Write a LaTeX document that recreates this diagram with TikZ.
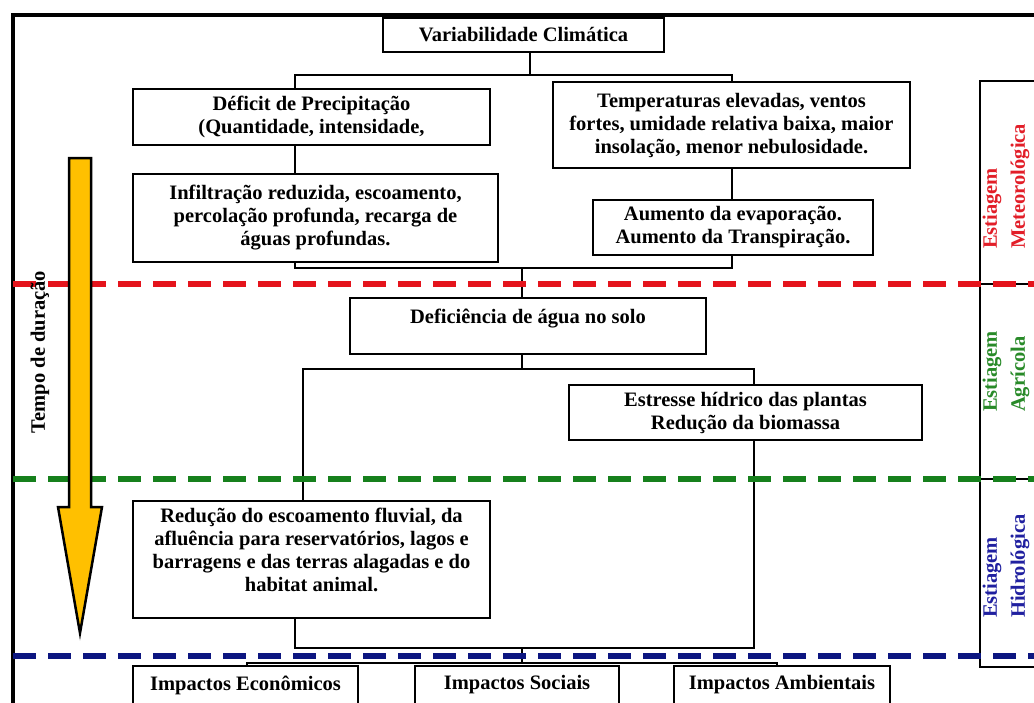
\documentclass[tikz,border=0pt]{standalone}
\usepackage{fontspec}
\setmainfont{Liberation Serif}
\definecolor{dred}{RGB}{228,20,28}
\definecolor{dgreen}{RGB}{22,128,28}
\definecolor{dblue}{RGB}{12,22,128}
\definecolor{tred}{RGB}{226,30,40}
\definecolor{tgreen}{RGB}{40,138,40}
\definecolor{tblue}{RGB}{32,32,160}
\definecolor{gold}{RGB}{255,192,0}
\begin{document}
\begin{tikzpicture}[x=1pt,y=-1pt,
  box/.style={draw, line width=2.8pt, inner sep=0pt, outer sep=0pt, align=center, fill=white,
    font=\bfseries\fontsize{20.5}{23}\selectfont},
  txt/.style={inner sep=0pt, align=center, font=\bfseries\fontsize{20.5}{23}\selectfont},
  conn/.style={line width=2.8pt},
  sep/.style={line width=6pt, dash pattern=on 23pt off 12pt},
  ptext/.style={rotate=90, anchor=west, align=left, inner sep=0pt,
    font=\bfseries\fontsize{20.5}{28}\selectfont}]
\useasboundingbox (0,0) rectangle (1034,702);
\clip (0,0) rectangle (1034,702);
\fill[white] (0,0) rectangle (1034,702);

% outer frame
\draw[line width=4pt] (13,15) rectangle (1100,760);

% side panel
\coordinate (pA) at (980,81);
\coordinate (pB) at (980,667);
\draw[conn] (1100,81) -- (pA) -- (pB) -- (1100,667);
\draw[conn] (980,284) -- (1100,284);
\draw[conn] (980,479) -- (1100,479);

% boxes
\node[box, minimum width=281, minimum height=34] (var) at (523.5,35) {Variabilidade Climática};
\node[box, minimum width=357, minimum height=56] (def) at (311.5,117) {Déficit de Precipitação\\(Quantidade, intensidade,};
\node[box, minimum width=365, minimum height=88] (inf) at (315.5,218) {Infiltração reduzida, escoamento,\\percolação profunda, recarga de\\águas profundas.};
\node[box, minimum width=357, minimum height=86] (temp) at (731.5,125) {Temperaturas elevadas, ventos\\fortes, umidade relativa baixa, maior\\insolação, menor nebulosidade.};
\node[box, minimum width=280, minimum height=55] (aum) at (733,227.5) {Aumento da evaporação.\\Aumento da Transpiração.};
\node[box, minimum width=356, minimum height=56] (defi) at (528,326) {};
\node[txt] (defitxt) at (528,319) {Deficiência de água no solo};
\node[box, minimum width=353, minimum height=55] (est) at (745.5,412.5) {Estresse hídrico das plantas\\Redução da biomassa};
\node[box, minimum width=357, minimum height=117] (red) at (311.5,559.5) {};
\node[txt] (redtxt) at (311.5,550) {Redução do escoamento fluvial, da\\afluência para reservatórios, lagos e\\barragens e das terras alagadas e do\\habitat animal.};
\node[box, minimum width=225, minimum height=70, anchor=north] (eco) at (245.5,666) {};
\node[txt] (ecotxt) at (245.5,685) {Impactos Econômicos};
\node[box, minimum width=204, minimum height=70, anchor=north] (soc) at (517,666) {};
\node[txt] (soctxt) at (517,685) {Impactos Sociais};
\node[box, minimum width=216, minimum height=70, anchor=north] (amb) at (782,666) {};
\node[txt] (ambtxt) at (782,685) {Impactos Ambientais};

% connectors
\coordinate (a0) at (530,75);
\coordinate (a1) at (295,75);
\coordinate (a2) at (732,75);
\draw[conn] (var.south -| a0) -- (a0);
\draw[conn] (a1 |- def.north) -- (a1) -- (a2) -- (a2 |- temp.north);
\draw[conn] (a1 |- def.south) -- (a1 |- inf.north);
\draw[conn] (a2 |- temp.south) -- (a2 |- aum.north);
\coordinate (b1) at (295,268);
\coordinate (b2) at (732,268);
\coordinate (b3) at (522,268);
\draw[conn] (b1 |- inf.south) -- (b1) -- (b2) -- (b2 |- aum.south);
\draw[conn] (b3) -- (b3 |- defi.north);
\coordinate (c0) at (522,369);
\coordinate (c1) at (303,369);
\coordinate (c2) at (754,369);
\draw[conn] (c0 |- defi.south) -- (c0);
\draw[conn] (c1 |- red.north) -- (c1) -- (c2) -- (c2 |- est.north);
\coordinate (d1) at (295,648);
\coordinate (d2) at (754,648);
\coordinate (d0) at (522,648);
\draw[conn] (d2 |- est.south) -- (d2) -- (d1) -- (d1 |- red.south);
\coordinate (e0) at (522,663);
\coordinate (e1) at (247,663);
\coordinate (e2) at (777,663);
\draw[conn] (d0) -- (e0);
\draw[conn] (e1 |- eco.north) -- (e1) -- (e2) -- (e2 |- amb.north);

% stage separators
\draw[sep, dred] (13,284) -- (1040,284);
\draw[sep, dgreen] (13,479) -- (1040,479);
\draw[sep, dblue] (13,656) -- (1040,656);

% time arrow
\draw[line width=2.5pt, fill=gold, line join=miter]
  (69,158) -- (91,158) -- (91,507) -- (102,507) -- (80,633) -- (58,507) -- (69,507) -- cycle;
\node[rotate=90, inner sep=0pt, font=\bfseries\fontsize{20.5}{23}\selectfont] (tempo) at (40,352) {Tempo de duração};

% stage labels
\node[ptext, tred] (lm) at (1006,249) {Estiagem\\Meteorológica};
\node[ptext, tgreen] (la) at (1006,412) {Estiagem\\Agrícola};
\node[ptext, tblue] (lh) at (1006,618) {Estiagem\\Hidrológica};
\end{tikzpicture}
\end{document}
